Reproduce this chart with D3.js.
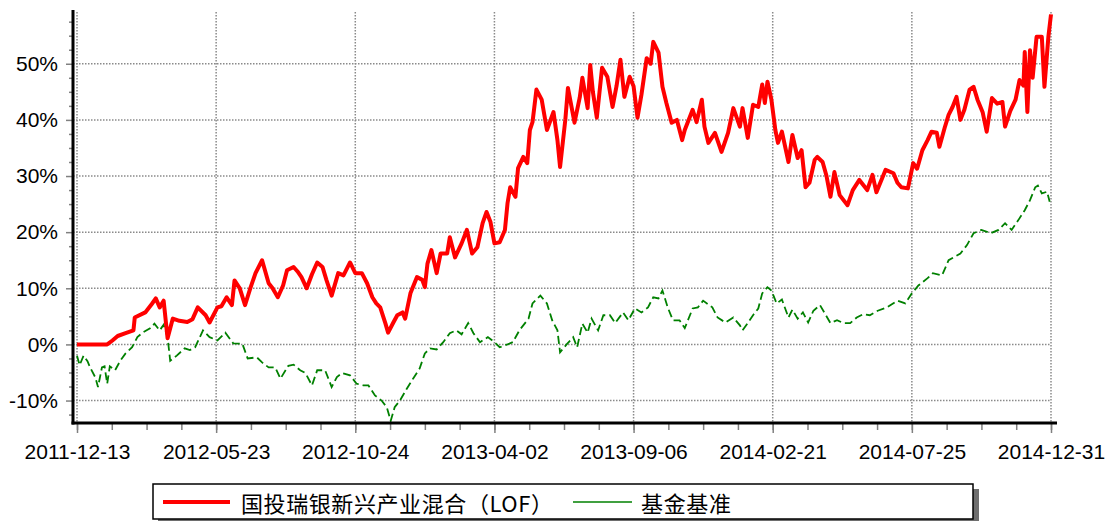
<!DOCTYPE html>
<html>
<head>
<meta charset="utf-8">
<script src="https://cdn.jsdelivr.net/npm/d3@7"></script>
<style>
  html, body { margin: 0; padding: 0; background: #fff; }
  svg { display: block; }
</style>
</head>
<body>
<div id="chart"></div>
<script>
// x axis is trading-day index from 2011-12-13
const tickDays = [0, 106, 212, 318, 424, 530, 636, 742];
const tickLabels = ['2011-12-13', '2012-05-23', '2012-10-24', '2013-04-02', '2013-09-06', '2014-02-21', '2014-07-25', '2014-12-31'];
const yTicks = [-10, 0, 10, 20, 30, 40, 50];

const seriesNames = ['国投瑞银新兴产业混合（LOF）', '基金基准'];

// fund return (%)
const fundDays = [0, 10, 18, 23, 27, 31, 37, 43, 44, 52, 57, 60, 63, 66, 69, 73, 78, 84, 88, 92, 98, 101, 107, 110, 114, 118,
  120, 124, 128, 132, 136, 141, 146, 149, 153, 157, 160, 165, 168, 171, 175, 179, 183, 187, 190, 194, 199, 203, 208, 212,
  217, 221, 225, 228, 231, 235, 237, 241, 244, 248, 250, 254, 259, 263, 265, 267, 270, 274, 277, 282, 284, 288, 293, 297,
  301, 305, 309, 312, 315, 318, 322, 326, 328, 330, 334, 336, 340, 343, 345, 347, 350, 354, 358, 363, 366, 368, 372, 374,
  379, 383, 385, 389, 391, 393, 396, 400, 404, 408, 411, 414, 417, 421, 424, 427, 430, 434, 437, 439, 443, 446, 449, 453,
  457, 461, 463, 469, 472, 476, 478, 481, 486, 491, 496, 500, 505, 507, 511, 515, 519, 522, 524, 526, 529, 532, 534, 537,
  542, 545, 549, 552, 555, 558, 562, 564, 568, 571, 574, 577, 581, 587, 591, 596, 602, 606, 609, 616, 622, 625, 628, 633,
  637, 640, 644, 648, 651, 655, 657, 661, 664, 667, 670, 673, 676, 680, 683, 686, 690, 693, 697, 701, 705, 707, 711, 715,
  718, 721, 722, 724, 726, 728, 731, 735, 737, 740, 742];
const fundValues = [0, 0, 0, 0, 0.7, 1.5, 2, 2.5, 4.8, 5.7, 7.2, 8.2, 6.6, 7.8, 1.1, 4.6, 4.2, 4, 4.5, 6.6, 5.2, 3.9, 6.6, 6.8, 8.4, 7,
  11.4, 10, 7, 10, 12.7, 15, 10.9, 10, 8.4, 10.5, 13.2, 13.8, 13, 12, 10, 12.5, 14.6, 13.8, 11.5, 8.7, 12.7, 12.3, 14.6, 12.7,
  12.7, 10.9, 8.4, 7.3, 6.6, 3.7, 2.1, 3.9, 5.2, 5.7, 4.6, 9.1, 12, 11.5, 10.2, 14.4, 16.8, 12.7, 16.2, 16.2, 19.1, 15.5, 18, 20.4,
  16.2, 17.3, 21.6, 23.6, 21.8, 18, 18.2, 20.4, 25.2, 28, 26.3, 31.4, 33.4, 32.3, 38.2, 39.6, 45.4, 43.6, 38.2, 41.4, 36.4, 31.6, 40, 45.7,
  39.5, 44, 47.5, 42.1, 49.8, 45, 40.4, 49.3, 47.7, 42.3, 46, 50.7, 44.1, 47.7, 46, 40.4, 44.5, 51, 50, 53.9, 52, 45.9, 43, 39.5,
  40, 36.4, 38.2, 41.8, 39.6, 43.6, 38.8, 35.9, 37.7, 34.3, 37.7, 42.1, 38.8, 42.1, 36.8, 42.7, 42.3, 46.3, 43, 46.8, 43.6, 38.2, 35.9, 37.9,
  32.5, 37.3, 33.2, 34.6, 28, 28.8, 32.9, 33.4, 32.5, 30, 26.3, 30.7, 26.6, 24.8, 27.5, 29.3, 27.5, 30.2, 27.1, 31.1, 30.5, 28.8, 28, 27.8,
  32.3, 31.3, 34.6, 36.4, 37.9, 37.7, 35.2, 38.6, 40.9, 42.3, 44.1, 40, 41.8, 45.4, 45.9, 43.6, 41.3, 37.9, 43.9, 42.9, 43.2, 38.8, 41.6, 43.6,
  47.1, 46.1, 52.1, 41.4, 52.4, 47.5, 54.8, 54.8, 45.9, 54.8, 58.8];

// benchmark return (%)
const benchDays = [0, 2, 5, 8, 10, 14, 16, 19, 21, 23, 25, 29, 33, 37, 42, 46, 50, 56, 59, 63, 66, 69, 71, 76, 82, 86, 90, 96,
  101, 107, 113, 119, 126, 130, 137, 141, 146, 151, 155, 161, 165, 170, 174, 179, 183, 189, 194, 198, 202, 208, 213, 218,
  222, 227, 232, 236, 239, 242, 246, 251, 256, 261, 265, 269, 274, 279, 284, 289, 293, 298, 302, 307, 313, 318, 322, 328,
  332, 337, 344, 347, 353, 358, 362, 366, 368, 373, 378, 381, 385, 389, 392, 397, 401, 406, 410, 416, 420, 425, 430, 435,
  439, 443, 446, 450, 454, 459, 463, 469, 473, 477, 484, 488, 494, 500, 505, 507, 511, 515, 519, 522, 526, 529, 533, 537,
  542, 545, 549, 553, 557, 561, 566, 574, 579, 584, 589, 594, 599, 604, 610, 617, 625, 631, 636, 641, 648, 652, 659, 664,
  673, 678, 683, 689, 696, 702, 707, 712, 717, 722, 726, 730, 732, 735, 739, 741];
const benchValues = [-2, -3.7, -2, -3, -4.1, -5.9, -7.6, -4.1, -3.9, -7, -3.9, -4.6, -2.9, -1.6, -0.5, 1.3, 2.1, 2.9, 3.7, 2.5, 3.5, 1.3, -2.9, -2, -0.7, -1, -0.5, 2.5,
  1.3, 0.7, 2.1, 0.2, 0.1, -2.5, -2.3, -3.2, -4.1, -4.1, -6.1, -3.8, -3.6, -4.6, -5.1, -7.3, -4.6, -4.6, -7.6, -5.8, -5.1, -5.5, -7, -7.3,
  -7.3, -9.1, -10, -11.2, -13.6, -11.2, -10, -8, -6.1, -4.3, -1.6, -0.7, -0.9, 0.4, 2, 2.5, 1.8, 3.8, 2, 0.4, 1.3, 0.4, -0.5, 0,
  0.4, 2.5, 4.6, 7.3, 8.7, 7.3, 4.3, 2.5, -1.4, 0, 1.3, -0.5, 3.7, 2.1, 4.6, 2.5, 5.2, 5.2, 3.8, 5.7, 4.3, 6.4, 5.7, 6.6,
  8.4, 8.2, 9.6, 6.6, 4.3, 4.3, 2.9, 6.4, 6.6, 7.8, 6.6, 4.8, 3.9, 4.8, 3.4, 2.5, 3.8, 5.2, 6.4, 9.1, 10.2, 9.6, 7.3, 8,
  4.8, 6.2, 4.6, 5.7, 3.9, 6, 7, 3.8, 4.3, 3.8, 3.8, 4.8, 5.4, 5.2, 6, 6.6, 7.8, 7.3, 9.1, 10.5, 11.8, 12.7, 12.3, 15,
  16.2, 17.7, 19.8, 20.4, 19.8, 20.4, 21.6, 20.4, 22.1, 23.9, 25.7, 28, 28.3, 26.9, 27.2, 25.4];

const width = 1108;
const height = 521;
const axisLeftX = 73;
const axisBottomY = 423;
const latin = '"Liberation Sans", Arial, sans-serif';
const cjk = '"Noto Sans CJK SC", "Liberation Sans", sans-serif';

const svg = d3.select('#chart')
  .append('svg')
  .attr('width', width)
  .attr('height', height);

const x = d3.scaleLinear().domain([0, 742]).range([77, 1051]);
const y = d3.scaleLinear().domain([-14, 59.4]).range([axisBottomY, 11]);

// grid
const grid = svg.append('g')
  .attr('stroke', '#8a8a8a')
  .attr('stroke-width', 1.5)
  .attr('stroke-dasharray', '1.5,1.5');

grid.selectAll('.hgrid')
  .data(yTicks)
  .enter()
  .append('line')
  .attr('x1', axisLeftX)
  .attr('x2', x(742))
  .attr('y1', (d) => y(d))
  .attr('y2', (d) => y(d));

grid.selectAll('.vgrid')
  .data(tickDays)
  .enter()
  .append('line')
  .attr('x1', (d) => x(d))
  .attr('x2', (d) => x(d))
  .attr('y1', 12)
  .attr('y2', axisBottomY);

// minor ticks (quarter steps)
const minorX = d3.range(0, 742.1, 106 / 4);
const minorY = d3.range(-12.5, 59, 2.5).filter((v) => yTicks.indexOf(v) < 0);

svg.append('g')
  .attr('transform', `translate(${axisLeftX},0)`)
  .call(d3.axisLeft(y).tickValues(yTicks).tickFormat((d) => d + '%').tickSize(7).tickPadding(8));

svg.append('g')
  .attr('transform', `translate(${axisLeftX},0)`)
  .call(d3.axisLeft(y).tickValues(minorY).tickFormat('').tickSize(4));

svg.append('g')
  .attr('transform', `translate(0,${axisBottomY + 1})`)
  .call(d3.axisBottom(x).tickValues(tickDays).tickFormat((d, i) => tickLabels[i]).tickSize(9).tickPadding(11));

svg.append('g')
  .attr('transform', `translate(0,${axisBottomY + 1})`)
  .call(d3.axisBottom(x).tickValues(minorX).tickFormat('').tickSize(6));

svg.selectAll('.domain').remove();
svg.selectAll('.tick line').attr('stroke', '#808080').attr('stroke-width', 1.5);
svg.selectAll('.tick text')
  .attr('fill', '#000')
  .style('font-family', latin)
  .style('font-size', '21px');

// lines
const benchData = benchDays.map((d, i) => [d, benchValues[i]]);
const fundData = fundDays.map((d, i) => [d, fundValues[i]]);
const line = d3.line().x((d) => x(d[0])).y((d) => y(d[1]));

svg.append('path')
  .datum(benchData)
  .attr('fill', 'none')
  .attr('stroke', '#008000')
  .attr('stroke-width', 1.8)
  .attr('stroke-dasharray', '8,4')
  .attr('d', line);

svg.append('path')
  .datum(fundData)
  .attr('fill', 'none')
  .attr('stroke', '#ff0000')
  .attr('stroke-width', 4)
  .attr('stroke-linejoin', 'round')
  .attr('d', line);

// axis lines
svg.append('line')
  .attr('x1', axisLeftX).attr('x2', axisLeftX)
  .attr('y1', 10).attr('y2', axisBottomY + 1.5)
  .attr('stroke', '#000').attr('stroke-width', 3);

svg.append('line')
  .attr('x1', axisLeftX - 1.5).attr('x2', 1057)
  .attr('y1', axisBottomY).attr('y2', axisBottomY)
  .attr('stroke', '#000').attr('stroke-width', 3);

// legend
const legend = svg.append('g');
legend.append('rect')
  .attr('x', 158).attr('y', 489)
  .attr('width', 821).attr('height', 36)
  .attr('fill', '#6e6e6e');
legend.append('rect')
  .attr('x', 153).attr('y', 484)
  .attr('width', 820).attr('height', 35)
  .attr('fill', '#fff')
  .attr('stroke', '#000')
  .attr('stroke-width', 1.5);

const legendItems = [
  { name: seriesNames[0], color: '#ff0000', w: 4, x1: 163, x2: 230, tx: 241, len: 312 },
  { name: seriesNames[1], color: '#008000', w: 1.6, x1: 573, x2: 632, tx: 641, len: 90 },
];

legendItems.forEach((d) => {
  legend.append('line')
    .attr('x1', d.x1).attr('x2', d.x2)
    .attr('y1', 502).attr('y2', 502)
    .attr('stroke', d.color)
    .attr('stroke-width', d.w);
  legend.append('text')
    .attr('x', d.tx).attr('y', 502)
    .attr('dominant-baseline', 'central')
    .attr('textLength', d.len)
    .attr('lengthAdjust', 'spacing')
    .style('font-family', cjk)
    .style('font-size', '22px')
    .attr('fill', '#000')
    .text(d.name);
});
</script>
</body>
</html>
